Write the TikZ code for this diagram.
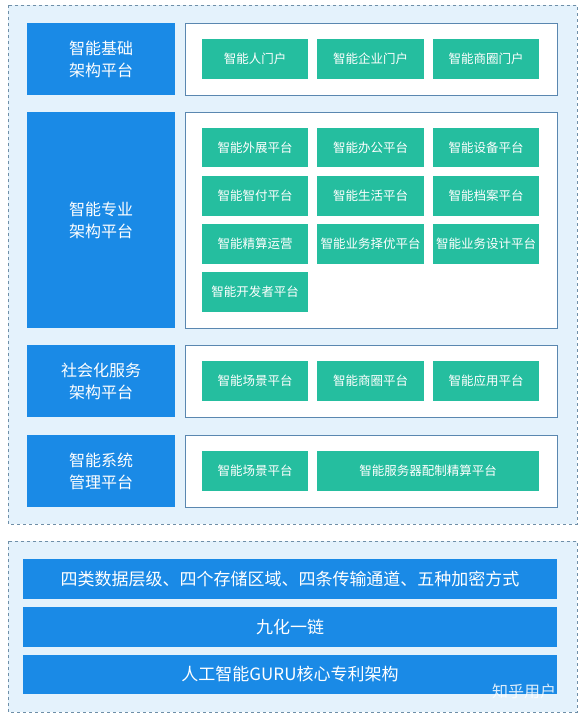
\documentclass[tikz,border=0pt]{standalone}
\usepackage{fontspec}
\setmainfont{Noto Sans CJK SC}
\definecolor{bblue}{HTML}{1A8AE6}
\definecolor{tgreen}{HTML}{25BE9F}
\definecolor{lbg}{HTML}{E4F2FC}
\definecolor{dashc}{HTML}{6F8FA8}
\definecolor{wbord}{HTML}{5A87B0}
\begin{document}
\begin{tikzpicture}[x=1pt,y=-1pt,
  panel/.style={draw=dashc,dashed,fill=lbg,line width=0.6pt},
  leftbox/.style={fill=bblue,text=white,font=\fontsize{16}{22}\selectfont,align=center},
  whitebox/.style={draw=wbord,fill=white,line width=0.6pt},
  gbox/.style={fill=tgreen,text=white,font=\fontsize{12.5}{15}\selectfont},
  bar/.style={fill=bblue,text=white,font=\fontsize{17}{20}\selectfont}]
\useasboundingbox (0,0) rectangle (581,718);
\fill[white] (0,0) rectangle (581,718);
% panels
\path[panel] (8,5) rectangle (577,524);
\path[panel] (8,541) rectangle (577,712);
% left labels
\path[leftbox] (27,23) rectangle (175,95) node[midway] (l1) {智能基础\\架构平台};
\path[leftbox] (27,112) rectangle (175,328) node[midway] (l2) {智能专业\\架构平台};
\path[leftbox] (27,345) rectangle (175,417) node[midway] (l3) {社会化服务\\架构平台};
\path[leftbox] (27,435) rectangle (175,507) node[midway] (l4) {智能系统\\管理平台};
% white containers
\path[whitebox] (185,23) rectangle (557,95) node[midway] (w1) {};
\path[whitebox] (185,112) rectangle (557,328) node[midway] (w2) {};
\path[whitebox] (185,345) rectangle (557,417) node[midway] (w3) {};
\path[whitebox] (185,435) rectangle (557,507) node[midway] (w4) {};
% green boxes row 1
\path[gbox] (202,39) rectangle (308,79) node[midway] (g11) {智能人门户};
\path[gbox] (317,39) rectangle (424,79) node[midway] (g12) {智能企业门户};
\path[gbox] (433,39) rectangle (539,79) node[midway] (g13) {智能商圈门户};
% section 2
\path[gbox] (202,128) rectangle (308,167) node[midway] (g21) {智能外展平台};
\path[gbox] (317,128) rectangle (424,167) node[midway] (g22) {智能办公平台};
\path[gbox] (433,128) rectangle (539,167) node[midway] (g23) {智能设备平台};
\path[gbox] (202,176) rectangle (308,216) node[midway] (g24) {智能智付平台};
\path[gbox] (317,176) rectangle (424,216) node[midway] (g25) {智能生活平台};
\path[gbox] (433,176) rectangle (539,216) node[midway] (g26) {智能档案平台};
\path[gbox] (202,224) rectangle (308,264) node[midway] (g27) {智能精算运营};
\path[gbox] (317,224) rectangle (424,264) node[midway] (g28) {智能业务择优平台};
\path[gbox] (433,224) rectangle (539,264) node[midway] (g29) {智能业务设计平台};
\path[gbox] (202,272) rectangle (308,312) node[midway] (g210) {智能开发者平台};
% section 3
\path[gbox] (202,361) rectangle (308,401) node[midway] (g31) {智能场景平台};
\path[gbox] (317,361) rectangle (424,401) node[midway] (g32) {智能商圈平台};
\path[gbox] (433,361) rectangle (539,401) node[midway] (g33) {智能应用平台};
% section 4
\path[gbox] (202,451) rectangle (308,491) node[midway] (g41) {智能场景平台};
\path[gbox] (317,451) rectangle (539,491) node[midway] (g42) {智能服务器配制精算平台};
% bottom bars
\path[bar] (23,559) rectangle (557,599) node[midway] (b1) {四类数据层级、四个存储区域、四条传输通道、五种加密方式};
\path[bar] (23,607) rectangle (557,647) node[midway] (b2) {九化一链};
\path[bar] (23,655) rectangle (557,694) node[midway] (b3) {人工智能GURU核心专利架构};
% watermark
\node[text=white,opacity=0.85,font=\fontsize{16}{18}\selectfont] (wm) at (524,691) {知乎用户};
\end{tikzpicture}
\end{document}
